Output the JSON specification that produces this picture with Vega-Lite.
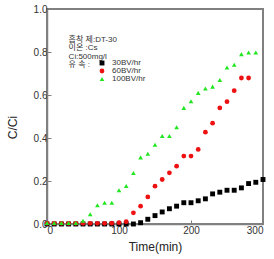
{
  "$schema": "https://vega.github.io/schema/vega-lite/v6.json",
  "autosize": "none",
  "width": 216,
  "height": 215,
  "padding": {"left": 47, "top": 9, "right": 11, "bottom": 35},
  "background": "white",
  "config": {
    "view": {"stroke": "#808080", "strokeWidth": 2},
    "font": "Liberation Sans",
    "axis": {
      "domainColor": "#808080",
      "domainWidth": 1.5,
      "tickColor": "#808080",
      "grid": false,
      "labelColor": "#333333",
      "labelFontSize": 10,
      "titleColor": "#222222",
      "titleFontSize": 12,
      "titleFontWeight": "normal"
    }
  },
  "datasets": {
    "breakthrough": [
      {"flow": "30BV/hr", "time": 0, "cci": 0.0},
      {"flow": "30BV/hr", "time": 10, "cci": 0.0},
      {"flow": "30BV/hr", "time": 20, "cci": 0.0},
      {"flow": "30BV/hr", "time": 30, "cci": 0.0},
      {"flow": "30BV/hr", "time": 40, "cci": 0.0},
      {"flow": "30BV/hr", "time": 50, "cci": 0.0},
      {"flow": "30BV/hr", "time": 60, "cci": 0.0},
      {"flow": "30BV/hr", "time": 70, "cci": 0.0},
      {"flow": "30BV/hr", "time": 80, "cci": 0.0},
      {"flow": "30BV/hr", "time": 90, "cci": 0.0},
      {"flow": "30BV/hr", "time": 100, "cci": 0.0},
      {"flow": "30BV/hr", "time": 110, "cci": 0.0},
      {"flow": "30BV/hr", "time": 120, "cci": 0.0},
      {"flow": "30BV/hr", "time": 130, "cci": 0.006},
      {"flow": "30BV/hr", "time": 140, "cci": 0.022},
      {"flow": "30BV/hr", "time": 150, "cci": 0.039},
      {"flow": "30BV/hr", "time": 160, "cci": 0.056},
      {"flow": "30BV/hr", "time": 170, "cci": 0.071},
      {"flow": "30BV/hr", "time": 180, "cci": 0.083},
      {"flow": "30BV/hr", "time": 190, "cci": 0.099},
      {"flow": "30BV/hr", "time": 200, "cci": 0.099},
      {"flow": "30BV/hr", "time": 210, "cci": 0.108},
      {"flow": "30BV/hr", "time": 220, "cci": 0.117},
      {"flow": "30BV/hr", "time": 230, "cci": 0.14},
      {"flow": "30BV/hr", "time": 240, "cci": 0.148},
      {"flow": "30BV/hr", "time": 250, "cci": 0.157},
      {"flow": "30BV/hr", "time": 260, "cci": 0.157},
      {"flow": "30BV/hr", "time": 270, "cci": 0.168},
      {"flow": "30BV/hr", "time": 280, "cci": 0.188},
      {"flow": "30BV/hr", "time": 290, "cci": 0.194},
      {"flow": "30BV/hr", "time": 300, "cci": 0.207},

      {"flow": "60BV/hr", "time": 0, "cci": 0.003},
      {"flow": "60BV/hr", "time": 10, "cci": 0.003},
      {"flow": "60BV/hr", "time": 20, "cci": 0.003},
      {"flow": "60BV/hr", "time": 30, "cci": 0.003},
      {"flow": "60BV/hr", "time": 40, "cci": 0.003},
      {"flow": "60BV/hr", "time": 50, "cci": 0.003},
      {"flow": "60BV/hr", "time": 60, "cci": 0.003},
      {"flow": "60BV/hr", "time": 70, "cci": 0.003},
      {"flow": "60BV/hr", "time": 80, "cci": 0.003},
      {"flow": "60BV/hr", "time": 90, "cci": 0.004},
      {"flow": "60BV/hr", "time": 100, "cci": 0.006},
      {"flow": "60BV/hr", "time": 110, "cci": 0.011},
      {"flow": "60BV/hr", "time": 120, "cci": 0.052},
      {"flow": "60BV/hr", "time": 130, "cci": 0.083},
      {"flow": "60BV/hr", "time": 140, "cci": 0.126},
      {"flow": "60BV/hr", "time": 150, "cci": 0.176},
      {"flow": "60BV/hr", "time": 160, "cci": 0.207},
      {"flow": "60BV/hr", "time": 170, "cci": 0.238},
      {"flow": "60BV/hr", "time": 180, "cci": 0.269},
      {"flow": "60BV/hr", "time": 190, "cci": 0.316},
      {"flow": "60BV/hr", "time": 200, "cci": 0.316},
      {"flow": "60BV/hr", "time": 210, "cci": 0.347},
      {"flow": "60BV/hr", "time": 220, "cci": 0.427},
      {"flow": "60BV/hr", "time": 230, "cci": 0.469},
      {"flow": "60BV/hr", "time": 240, "cci": 0.54},
      {"flow": "60BV/hr", "time": 250, "cci": 0.569},
      {"flow": "60BV/hr", "time": 260, "cci": 0.62},
      {"flow": "60BV/hr", "time": 270, "cci": 0.679},
      {"flow": "60BV/hr", "time": 280, "cci": 0.679},

      {"flow": "100BV/hr", "time": 0, "cci": 0.005},
      {"flow": "100BV/hr", "time": 10, "cci": 0.005},
      {"flow": "100BV/hr", "time": 20, "cci": 0.005},
      {"flow": "100BV/hr", "time": 30, "cci": 0.005},
      {"flow": "100BV/hr", "time": 40, "cci": 0.005},
      {"flow": "100BV/hr", "time": 50, "cci": 0.015},
      {"flow": "100BV/hr", "time": 60, "cci": 0.045},
      {"flow": "100BV/hr", "time": 70, "cci": 0.087},
      {"flow": "100BV/hr", "time": 80, "cci": 0.099},
      {"flow": "100BV/hr", "time": 90, "cci": 0.099},
      {"flow": "100BV/hr", "time": 100, "cci": 0.157},
      {"flow": "100BV/hr", "time": 110, "cci": 0.177},
      {"flow": "100BV/hr", "time": 120, "cci": 0.237},
      {"flow": "100BV/hr", "time": 130, "cci": 0.31},
      {"flow": "100BV/hr", "time": 140, "cci": 0.327},
      {"flow": "100BV/hr", "time": 150, "cci": 0.369},
      {"flow": "100BV/hr", "time": 160, "cci": 0.409},
      {"flow": "100BV/hr", "time": 170, "cci": 0.409},
      {"flow": "100BV/hr", "time": 180, "cci": 0.45},
      {"flow": "100BV/hr", "time": 190, "cci": 0.54},
      {"flow": "100BV/hr", "time": 200, "cci": 0.571},
      {"flow": "100BV/hr", "time": 210, "cci": 0.61},
      {"flow": "100BV/hr", "time": 220, "cci": 0.63},
      {"flow": "100BV/hr", "time": 230, "cci": 0.639},
      {"flow": "100BV/hr", "time": 240, "cci": 0.67},
      {"flow": "100BV/hr", "time": 250, "cci": 0.728},
      {"flow": "100BV/hr", "time": 260, "cci": 0.741},
      {"flow": "100BV/hr", "time": 270, "cci": 0.79},
      {"flow": "100BV/hr", "time": 280, "cci": 0.798},
      {"flow": "100BV/hr", "time": 290, "cci": 0.798}
    ],
    "conditions": [
      {"text": ["흡착 제:DT-30", "이온 :Cs", "Ci:500mg/l", "유 속 :"]}
    ]
  },
  "layer": [
    {
      "data": {"name": "breakthrough"},
      "mark": {"type": "point", "filled": true, "opacity": 1, "strokeWidth": 0},
      "encoding": {
        "x": {
          "field": "time",
          "type": "quantitative",
          "title": "Time(min)",
          "scale": {"domain": [0, 300], "nice": false},
          "axis": {
            "values": [0, 25, 50, 75, 100, 125, 150, 175, 200, 225, 250, 275, 300],
            "labelExpr": "datum.value % 50 === 0 ? datum.label : ''",
            "tickSize": {"condition": {"test": "datum.value % 50 === 0", "value": -4}, "value": -2.5},
            "labelPadding": 5,
            "titlePadding": 6
          }
        },
        "y": {
          "field": "cci",
          "type": "quantitative",
          "title": "C/Ci",
          "scale": {"domain": [0, 1], "nice": false},
          "axis": {
            "values": [0, 0.1, 0.2, 0.3, 0.4, 0.5, 0.6, 0.7, 0.8, 0.9, 1.0],
            "format": ".1f",
            "labelExpr": "round(datum.value * 10) % 2 === 0 ? datum.label : ''",
            "tickSize": {"condition": {"test": "round(datum.value * 10) % 2 === 0", "value": -4}, "value": -2.5},
            "labelPadding": 4,
            "titlePadding": 14,
            "titleY": 118
          }
        },
        "color": {
          "field": "flow",
          "type": "nominal",
          "sort": ["30BV/hr", "60BV/hr", "100BV/hr"],
          "scale": {"domain": ["30BV/hr", "60BV/hr", "100BV/hr"], "range": ["#000000", "#ee1111", "#22e622"]},
          "legend": {
            "orient": "none",
            "legendX": 51,
            "legendY": 50,
            "title": null,
            "labelFontSize": 8,
            "labelColor": "#333333",
            "labelFont": "Liberation Sans",
            "symbolSize": 14,
            "rowPadding": 0,
            "labelOffset": 6,
            "padding": 0
          }
        },
        "shape": {
          "field": "flow",
          "type": "nominal",
          "sort": ["30BV/hr", "60BV/hr", "100BV/hr"],
          "scale": {"domain": ["30BV/hr", "60BV/hr", "100BV/hr"], "range": ["square", "circle", "triangle-up"]}
        },
        "size": {
          "field": "flow",
          "type": "nominal",
          "sort": ["30BV/hr", "60BV/hr", "100BV/hr"],
          "scale": {"domain": ["30BV/hr", "60BV/hr", "100BV/hr"], "range": [24, 22, 30]},
          "legend": null
        }
      }
    },
    {
      "data": {"name": "conditions"},
      "mark": {
        "type": "text",
        "align": "left",
        "baseline": "middle",
        "font": "Liberation Sans, Noto Sans CJK KR",
        "fontSize": 8,
        "lineHeight": 8.3,
        "color": "#333333"
      },
      "encoding": {
        "x": {"datum": 30},
        "y": {"datum": 0.855},
        "text": {"field": "text"}
      }
    }
  ]
}
